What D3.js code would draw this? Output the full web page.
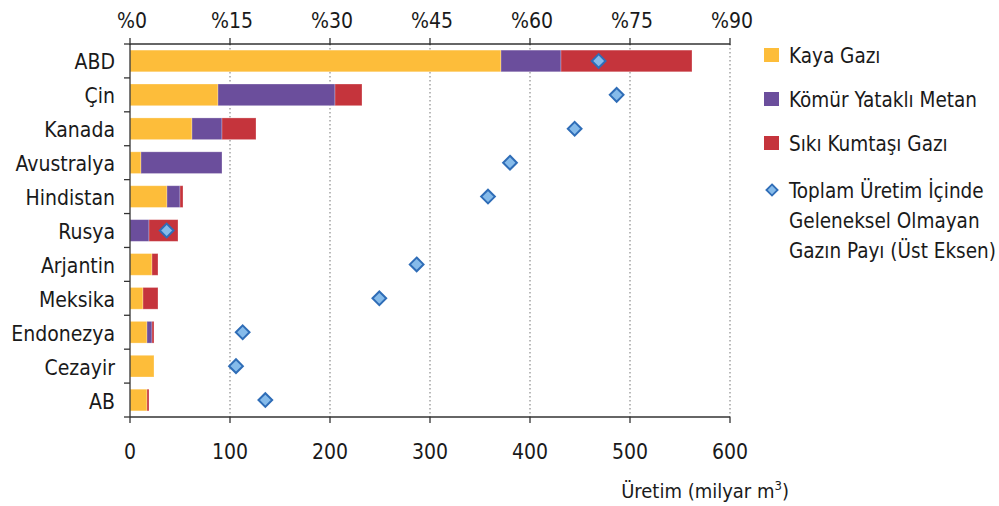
<!DOCTYPE html>
<html><head><meta charset="utf-8">
<script src="https://cdn.jsdelivr.net/npm/d3@7"></script>
<style>
body{margin:0;background:#fff;}
text{font-family:"DejaVu Sans Condensed","DejaVu Sans",sans-serif;font-stretch:condensed;fill:#1a1a1a;}
</style></head>
<body><svg id="c" width="999" height="506"></svg>
<script>
const categories = ["ABD","Çin","Kanada","Avustralya","Hindistan","Rusya","Arjantin","Meksika","Endonezya","Cezayir","AB"];
const kayaGazi   = [371, 88, 62, 11, 37, 0, 22, 13, 17, 24, 17];
const komurMetan = [60, 117, 30, 81, 13, 19, 0, 0, 5, 0, 0];
const sikiKumtasi= [131, 27, 34, 0, 3, 29, 6, 15, 2, 0, 2];
const share      = [70.3, 73.0, 66.7, 57.0, 53.7, 5.5, 43.0, 37.4, 16.9, 15.9, 20.3];
const bottomTicks = [0,100,200,300,400,500,600];
const topTicks = [0,15,30,45,60,75,90];
const seriesNames = ["Kaya Gazı","Kömür Yataklı Metan","Sıkı Kumtaşı Gazı"];
const shareLabel = ["Toplam Üretim İçinde","Geleneksel Olmayan","Gazın Payı (Üst Eksen)"];
const colors = ["#FDBD3A","#6B4E9C","#C5343C"];

const svg = d3.select("#c");
const L=130,R=730,T=44,B=417;
const x = d3.scaleLinear().domain([0,600]).range([L,R]);
const xTop = d3.scaleLinear().domain([0,90]).range([L,R]);
const y = d3.scaleBand().domain(categories).range([T,B]).paddingInner(0.36).paddingOuter(0.18);

// grid
svg.append("g").selectAll("line").data(bottomTicks.slice(1)).join("line")
  .attr("x1",d=>x(d)).attr("x2",d=>x(d)).attr("y1",T).attr("y2",B)
  .attr("stroke","#a8a8a8").attr("stroke-width",1.6).attr("stroke-dasharray","1.6,2.4");

// stacked bars
const rows = categories.map((c,i)=>({cat:c,k:kayaGazi[i],m:komurMetan[i],s:sikiKumtasi[i]}));
const stack = d3.stack().keys(["k","m","s"])(rows);
svg.append("g").selectAll("g").data(stack).join("g").attr("fill",(d,i)=>colors[i])
  .selectAll("rect").data(d=>d).join("rect")
  .attr("x",d=>x(d[0])).attr("width",d=>Math.max(0,x(d[1])-x(d[0])))
  .attr("y",d=>y(d.data.cat)).attr("height",y.bandwidth())
  .attr("stroke","rgba(255,255,255,0.35)").attr("stroke-width",0.8);

// axes
const ax = svg.append("g").attr("stroke","#333").attr("stroke-width",1.3);
ax.append("line").attr("x1",L).attr("x2",R).attr("y1",T).attr("y2",T);
ax.append("line").attr("x1",L).attr("x2",R).attr("y1",B).attr("y2",B);
ax.append("line").attr("x1",L).attr("x2",L).attr("y1",T).attr("y2",B);
ax.selectAll(".tt").data(topTicks).join("line").attr("x1",d=>xTop(d)).attr("x2",d=>xTop(d)).attr("y1",T-6).attr("y2",T+1);
ax.selectAll(".bt").data(bottomTicks).join("line").attr("x1",d=>x(d)).attr("x2",d=>x(d)).attr("y1",B).attr("y2",B+6);
const bounds = d3.range(categories.length+1).map(i=>T+i*(B-T)/categories.length);
ax.selectAll(".lt").data(bounds).join("line").attr("x1",L-6).attr("x2",L).attr("y1",d=>d).attr("y2",d=>d);

svg.append("g").selectAll("text").data(topTicks).join("text")
  .attr("x",d=>xTop(d)+2).attr("y",27.5).attr("text-anchor","middle").attr("font-size",21).text(d=>"%"+d);
svg.append("g").selectAll("text").data(bottomTicks).join("text")
  .attr("x",d=>x(d)).attr("y",459).attr("text-anchor","middle").attr("font-size",21).text(d=>d);
svg.append("g").selectAll("text").data(categories).join("text")
  .attr("x",L-15).attr("y",d=>y(d)+y.bandwidth()/2+8.5).attr("text-anchor","end").attr("font-size",21).text(d=>d);

const t = svg.append("text").attr("x",789).attr("y",498).attr("text-anchor","end").attr("font-size",20);
t.append("tspan").text("Üretim (milyar m");
t.append("tspan").attr("font-size",13).attr("dy",-8).text("3");
t.append("tspan").attr("dy",8).text(")");

// diamonds
const sym = d3.symbol().type(d3.symbolDiamond2).size(120);
svg.append("g").selectAll("path").data(categories).join("path")
  .attr("d",sym).attr("transform",(d,i)=>`translate(${xTop(share[i])},${y(d)+y.bandwidth()/2})`)
  .attr("fill","#86BBEA").attr("stroke","#2F6DB7").attr("stroke-width",2);

// legend
const lg = svg.append("g");
seriesNames.forEach((n,i)=>{
  const bl = 62.5 + i*44;
  lg.append("rect").attr("x",764).attr("y",bl-14.5).attr("width",15).attr("height",14).attr("fill",colors[i]);
  lg.append("text").attr("x",789).attr("y",bl).attr("font-size",20.5).text(n);
});
lg.append("path").attr("d",d3.symbol().type(d3.symbolDiamond2).size(80)).attr("transform","translate(772,190)")
  .attr("fill","#86BBEA").attr("stroke","#2F6DB7").attr("stroke-width",1.8);
shareLabel.forEach((s,i)=>{
  lg.append("text").attr("x",789).attr("y",198.3+i*30).attr("font-size",20.5).text(s);
});
</script></body></html>
